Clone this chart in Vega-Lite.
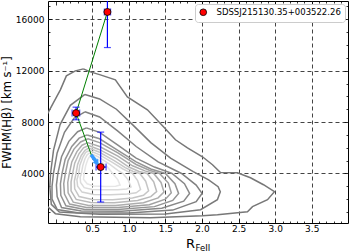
{
"$schema": "https://vega.github.io/schema/vega-lite/v6.json",
"width": 300, "height": 222,
"autosize": {"type": "none"},
"padding": {"left": 48, "top": 1, "right": 1, "bottom": 28},
"background": "white",
"config": {"font": "DejaVu Sans", "view": {"stroke": "black", "strokeWidth": 1}},
"datasets": {
"cont": [
{"c":1,"i":0,"x":0.379,"y":12139},{"c":1,"i":1,"x":0.474,"y":11906},{"c":1,"i":2,"x":0.611,"y":11673},{"c":1,"i":3,"x":0.816,"y":11284},{"c":1,"i":4,"x":0.98,"y":9963},{"c":1,"i":5,"x":1.254,"y":8953},{"c":1,"i":6,"x":1.473,"y":7632},{"c":1,"i":7,"x":1.637,"y":6622},{"c":1,"i":8,"x":1.801,"y":6000},{"c":1,"i":9,"x":2.006,"y":5301},{"c":1,"i":10,"x":2.143,"y":4680},{"c":1,"i":11,"x":2.252,"y":4081},{"c":1,"i":12,"x":2.484,"y":4058},{"c":1,"i":13,"x":2.662,"y":3669},{"c":1,"i":14,"x":2.84,"y":3125},{"c":1,"i":15,"x":2.99,"y":2582},{"c":1,"i":16,"x":2.895,"y":1960},{"c":1,"i":17,"x":2.69,"y":1416},{"c":1,"i":18,"x":2.621,"y":1028},{"c":1,"i":19,"x":2.211,"y":795},{"c":1,"i":20,"x":2.006,"y":717},{"c":1,"i":21,"x":1.295,"y":561},{"c":1,"i":22,"x":0.338,"y":639},{"c":1,"i":23,"x":-0.004,"y":872},{"c":1,"i":24,"x":-0.141,"y":1572},{"c":1,"i":25,"x":-0.15,"y":5000},{"c":1,"i":26,"x":-0.141,"y":8331},{"c":1,"i":27,"x":-0.032,"y":9497},{"c":1,"i":28,"x":0.064,"y":10507},{"c":1,"i":29,"x":0.146,"y":11595},{"c":1,"i":30,"x":0.269,"y":11983},{"c":1,"i":31,"x":0.379,"y":12139},
{"c":2,"i":0,"x":0.40,"y":10150},{"c":2,"i":1,"x":0.6,"y":9800},{"c":2,"i":2,"x":0.83,"y":9000},{"c":2,"i":3,"x":1.05,"y":7800},{"c":2,"i":4,"x":1.3,"y":6400},{"c":2,"i":5,"x":1.57,"y":5200},{"c":2,"i":6,"x":1.88,"y":4140},{"c":2,"i":7,"x":2.09,"y":3500},{"c":2,"i":8,"x":2.22,"y":2970},{"c":2,"i":9,"x":2.25,"y":2580},{"c":2,"i":10,"x":2.21,"y":1960},{"c":2,"i":11,"x":1.98,"y":1183},{"c":2,"i":12,"x":1.5,"y":850},{"c":2,"i":13,"x":0.6,"y":820},{"c":2,"i":14,"x":0.05,"y":1000},{"c":2,"i":15,"x":-0.06,"y":1600},{"c":2,"i":16,"x":-0.08,"y":3000},{"c":2,"i":17,"x":-0.07,"y":4000},{"c":2,"i":18,"x":-0.03,"y":5800},{"c":2,"i":19,"x":0.06,"y":7800},{"c":2,"i":20,"x":0.2,"y":9300},{"c":2,"i":21,"x":0.40,"y":10150},
{"c":3,"i":0,"x":0.40,"y":8800},{"c":3,"i":1,"x":0.6,"y":8400},{"c":3,"i":2,"x":0.85,"y":7300},{"c":3,"i":3,"x":1.1,"y":6100},{"c":3,"i":4,"x":1.4,"y":4900},{"c":3,"i":5,"x":1.72,"y":4000},{"c":3,"i":6,"x":1.92,"y":3100},{"c":3,"i":7,"x":2.0,"y":2450},{"c":3,"i":8,"x":1.92,"y":1800},{"c":3,"i":9,"x":1.6,"y":1150},{"c":3,"i":10,"x":1.0,"y":930},{"c":3,"i":11,"x":0.3,"y":950},{"c":3,"i":12,"x":0.02,"y":1200},{"c":3,"i":13,"x":-0.05,"y":2000},{"c":3,"i":14,"x":-0.05,"y":3000},{"c":3,"i":15,"x":-0.03,"y":4000},{"c":3,"i":16,"x":0.02,"y":5600},{"c":3,"i":17,"x":0.12,"y":7200},{"c":3,"i":18,"x":0.25,"y":8300},{"c":3,"i":19,"x":0.40,"y":8800},
{"c":4,"i":0,"x":0.42,"y":7550},{"c":4,"i":1,"x":0.6,"y":7200},{"c":4,"i":2,"x":0.85,"y":6200},{"c":4,"i":3,"x":1.1,"y":5200},{"c":4,"i":4,"x":1.35,"y":4500},{"c":4,"i":5,"x":1.59,"y":4000},{"c":4,"i":6,"x":1.76,"y":3200},{"c":4,"i":7,"x":1.83,"y":2450},{"c":4,"i":8,"x":1.75,"y":1850},{"c":4,"i":9,"x":1.45,"y":1300},{"c":4,"i":10,"x":0.9,"y":1060},{"c":4,"i":11,"x":0.35,"y":1080},{"c":4,"i":12,"x":0.08,"y":1350},{"c":4,"i":13,"x":0.02,"y":2200},{"c":4,"i":14,"x":0.01,"y":3100},{"c":4,"i":15,"x":0.03,"y":4000},{"c":4,"i":16,"x":0.08,"y":5300},{"c":4,"i":17,"x":0.18,"y":6500},{"c":4,"i":18,"x":0.3,"y":7250},{"c":4,"i":19,"x":0.42,"y":7550},
{"c":5,"i":0,"x":0.43,"y":7000},{"c":5,"i":1,"x":0.6,"y":6700},{"c":5,"i":2,"x":0.85,"y":5800},{"c":5,"i":3,"x":1.1,"y":4900},{"c":5,"i":4,"x":1.3,"y":4350},{"c":5,"i":5,"x":1.5,"y":4000},{"c":5,"i":6,"x":1.63,"y":3200},{"c":5,"i":7,"x":1.68,"y":2450},{"c":5,"i":8,"x":1.6,"y":1900},{"c":5,"i":9,"x":1.35,"y":1420},{"c":5,"i":10,"x":0.85,"y":1190},{"c":5,"i":11,"x":0.4,"y":1200},{"c":5,"i":12,"x":0.14,"y":1480},{"c":5,"i":13,"x":0.07,"y":2300},{"c":5,"i":14,"x":0.065,"y":3200},{"c":5,"i":15,"x":0.087,"y":4000},{"c":5,"i":16,"x":0.13,"y":5100},{"c":5,"i":17,"x":0.22,"y":6100},{"c":5,"i":18,"x":0.32,"y":6750},{"c":5,"i":19,"x":0.43,"y":7000},
{"c":6,"i":0,"x":0.44,"y":6700},{"c":6,"i":1,"x":0.6,"y":6400},{"c":6,"i":2,"x":0.85,"y":5600},{"c":6,"i":3,"x":1.1,"y":4700},{"c":6,"i":4,"x":1.28,"y":4250},{"c":6,"i":5,"x":1.42,"y":4000},{"c":6,"i":6,"x":1.54,"y":3250},{"c":6,"i":7,"x":1.58,"y":2500},{"c":6,"i":8,"x":1.5,"y":2000},{"c":6,"i":9,"x":1.28,"y":1570},{"c":6,"i":10,"x":0.85,"y":1345},{"c":6,"i":11,"x":0.42,"y":1360},{"c":6,"i":12,"x":0.19,"y":1620},{"c":6,"i":13,"x":0.12,"y":2400},{"c":6,"i":14,"x":0.11,"y":3200},{"c":6,"i":15,"x":0.132,"y":4000},{"c":6,"i":16,"x":0.17,"y":5000},{"c":6,"i":17,"x":0.25,"y":5900},{"c":6,"i":18,"x":0.34,"y":6450},{"c":6,"i":19,"x":0.44,"y":6700},
{"c":7,"i":0,"x":0.44,"y":6400},{"c":7,"i":1,"x":0.6,"y":6100},{"c":7,"i":2,"x":0.85,"y":5350},{"c":7,"i":3,"x":1.05,"y":4600},{"c":7,"i":4,"x":1.22,"y":4200},{"c":7,"i":5,"x":1.34,"y":4000},{"c":7,"i":6,"x":1.44,"y":3300},{"c":7,"i":7,"x":1.48,"y":2550},{"c":7,"i":8,"x":1.4,"y":2100},{"c":7,"i":9,"x":1.2,"y":1720},{"c":7,"i":10,"x":0.82,"y":1500},{"c":7,"i":11,"x":0.45,"y":1510},{"c":7,"i":12,"x":0.24,"y":1770},{"c":7,"i":13,"x":0.17,"y":2500},{"c":7,"i":14,"x":0.165,"y":3300},{"c":7,"i":15,"x":0.187,"y":4000},{"c":7,"i":16,"x":0.22,"y":4900},{"c":7,"i":17,"x":0.29,"y":5700},{"c":7,"i":18,"x":0.36,"y":6200},{"c":7,"i":19,"x":0.44,"y":6400},
{"c":8,"i":0,"x":0.45,"y":6180},{"c":8,"i":1,"x":0.6,"y":5850},{"c":8,"i":2,"x":0.83,"y":5150},{"c":8,"i":3,"x":1.0,"y":4500},{"c":8,"i":4,"x":1.14,"y":4150},{"c":8,"i":5,"x":1.25,"y":4000},{"c":8,"i":6,"x":1.34,"y":3350},{"c":8,"i":7,"x":1.38,"y":2600},{"c":8,"i":8,"x":1.3,"y":2200},{"c":8,"i":9,"x":1.12,"y":1900},{"c":8,"i":10,"x":0.8,"y":1730},{"c":8,"i":11,"x":0.48,"y":1740},{"c":8,"i":12,"x":0.28,"y":1980},{"c":8,"i":13,"x":0.21,"y":2650},{"c":8,"i":14,"x":0.21,"y":3350},{"c":8,"i":15,"x":0.232,"y":4000},{"c":8,"i":16,"x":0.26,"y":4800},{"c":8,"i":17,"x":0.32,"y":5550},{"c":8,"i":18,"x":0.38,"y":6000},{"c":8,"i":19,"x":0.45,"y":6180},
{"c":9,"i":0,"x":0.45,"y":5980},{"c":9,"i":1,"x":0.6,"y":5650},{"c":9,"i":2,"x":0.8,"y":5000},{"c":9,"i":3,"x":0.95,"y":4450},{"c":9,"i":4,"x":1.06,"y":4150},{"c":9,"i":5,"x":1.15,"y":4000},{"c":9,"i":6,"x":1.23,"y":3400},{"c":9,"i":7,"x":1.27,"y":2650},{"c":9,"i":8,"x":1.2,"y":2300},{"c":9,"i":9,"x":1.05,"y":2100},{"c":9,"i":10,"x":0.78,"y":1960},{"c":9,"i":11,"x":0.5,"y":1970},{"c":9,"i":12,"x":0.32,"y":2200},{"c":9,"i":13,"x":0.26,"y":2800},{"c":9,"i":14,"x":0.255,"y":3400},{"c":9,"i":15,"x":0.279,"y":4000},{"c":9,"i":16,"x":0.3,"y":4700},{"c":9,"i":17,"x":0.35,"y":5400},{"c":9,"i":18,"x":0.4,"y":5800},{"c":9,"i":19,"x":0.45,"y":5980},
{"c":10,"i":0,"x":0.46,"y":5790},{"c":10,"i":1,"x":0.6,"y":5450},{"c":10,"i":2,"x":0.78,"y":4850},{"c":10,"i":3,"x":0.92,"y":4350},{"c":10,"i":4,"x":0.99,"y":4150},{"c":10,"i":5,"x":1.05,"y":4000},{"c":10,"i":6,"x":1.12,"y":3450},{"c":10,"i":7,"x":1.16,"y":2750},{"c":10,"i":8,"x":1.1,"y":2500},{"c":10,"i":9,"x":0.98,"y":2400},{"c":10,"i":10,"x":0.75,"y":2350},{"c":10,"i":11,"x":0.52,"y":2370},{"c":10,"i":12,"x":0.36,"y":2550},{"c":10,"i":13,"x":0.3,"y":3000},{"c":10,"i":14,"x":0.29,"y":3500},{"c":10,"i":15,"x":0.314,"y":4000},{"c":10,"i":16,"x":0.33,"y":4650},{"c":10,"i":17,"x":0.37,"y":5250},{"c":10,"i":18,"x":0.41,"y":5650},{"c":10,"i":19,"x":0.46,"y":5790},
{"c":11,"i":0,"x":0.46,"y":5590},{"c":11,"i":1,"x":0.58,"y":5300},{"c":11,"i":2,"x":0.74,"y":4700},{"c":11,"i":3,"x":0.85,"y":4250},{"c":11,"i":4,"x":0.92,"y":4000},{"c":11,"i":5,"x":0.99,"y":3500},{"c":11,"i":6,"x":1.03,"y":2950},{"c":11,"i":7,"x":0.97,"y":2800},{"c":11,"i":8,"x":0.85,"y":2740},{"c":11,"i":9,"x":0.68,"y":2737},{"c":11,"i":10,"x":0.5,"y":2760},{"c":11,"i":11,"x":0.39,"y":2900},{"c":11,"i":12,"x":0.34,"y":3300},{"c":11,"i":13,"x":0.335,"y":3700},{"c":11,"i":14,"x":0.351,"y":4000},{"c":11,"i":15,"x":0.37,"y":4600},{"c":11,"i":16,"x":0.4,"y":5150},{"c":11,"i":17,"x":0.43,"y":5450},{"c":11,"i":18,"x":0.46,"y":5590},
{"c":12,"i":0,"x":0.47,"y":5380},{"c":12,"i":1,"x":0.58,"y":5100},{"c":12,"i":2,"x":0.7,"y":4550},{"c":12,"i":3,"x":0.78,"y":4000},{"c":12,"i":4,"x":0.85,"y":3500},{"c":12,"i":5,"x":0.88,"y":3100},{"c":12,"i":6,"x":0.82,"y":3000},{"c":12,"i":7,"x":0.68,"y":2990},{"c":12,"i":8,"x":0.52,"y":3020},{"c":12,"i":9,"x":0.43,"y":3200},{"c":12,"i":10,"x":0.38,"y":3550},{"c":12,"i":11,"x":0.39,"y":4000},{"c":12,"i":12,"x":0.41,"y":4600},{"c":12,"i":13,"x":0.44,"y":5100},{"c":12,"i":14,"x":0.47,"y":5380}
],
"pts": [
{"name":"SDSSJ215130.35+003522.26","x":0.707,"y":16570,"xlo":0.665,"xhi":0.75,"ylo":13800,"yhi":19340},
{"name":"SDSSJ215130.35+003522.26","x":0.279,"y":8700,"xlo":0.224,"xhi":0.328,"ylo":8180,"yhi":9160},
{"name":"SDSSJ215130.35+003522.26","x":0.615,"y":4500,"xlo":0.552,"xhi":0.689,"ylo":1780,"yhi":7220}
],
"path": [{"i":0,"x":0.707,"y":16570},{"i":1,"x":0.279,"y":8700},{"i":2,"x":0.49,"y":5400}],
"arrow": [{"x":0.484,"y":5457,"x2":0.55,"y2":4940}],
"head": [{"x":0.566,"y":4810}]
},
"resolve": {"axis": {"x": "independent", "y": "independent"}},
"layer": [
{
"data": {"name": "cont"},
"mark": {"type": "line", "strokeWidth": 1.5, "clip": true},
"encoding": {
"x": {"field": "x", "type": "quantitative", "scale": {"domain": [-0.105, 3.995], "nice": false, "zero": false},
 "axis": {"orient": "bottom", "values": [0,0.1,0.2,0.3,0.4,0.5,0.6,0.7,0.8,0.9,1,1.1,1.2,1.3,1.4,1.5,1.6,1.7,1.8,1.9,2,2.1,2.2,2.3,2.4,2.5,2.6,2.7,2.8,2.9,3,3.1,3.2,3.3,3.4,3.5,3.6,3.7,3.8,3.9],
  "labelExpr": "(round(datum.value*10)%5===0 && datum.value>0.2 && datum.value<3.8) ? format(datum.value,'.1f') : ''",
  "labelFontSize": 9, "labelColor": "black", "labelPadding": 5, "labelOverlap": false, "labelFlush": false,
  "tickSize": {"condition": {"test": "round(datum.value*10)%5===0", "value": -4}, "value": -2},
  "tickColor": "black", "tickWidth": 0.8,
  "grid": true, "gridDash": [4, 3], "gridColor": "#444", "gridWidth": 1,
  "gridOpacity": {"condition": {"test": "round(datum.value*10)%5===0 && datum.value>0.2 && datum.value<3.8", "value": 1}, "value": 0},
  "domain": false,
  "title": "R", "titleFontSize": 13, "titleFontWeight": "normal", "titleColor": "black", "titleX": 142, "titleY": 24, "titleAlign": "center", "titleBaseline": "alphabetic"}},
"y": {"field": "y", "type": "quantitative", "scale": {"domain": [146, 17422], "nice": false, "zero": false},
 "axis": {"orient": "left", "values": [1000,2000,3000,4000,5000,6000,7000,8000,9000,10000,11000,12000,13000,14000,15000,16000,17000],
  "labelExpr": "datum.value % 4000 === 0 ? '' + datum.value : ''",
  "labelFontSize": 9, "labelColor": "black", "labelPadding": 8, "labelOverlap": false, "labelFlush": false,
  "tickSize": {"condition": {"test": "datum.value % 4000 === 0", "value": -4}, "value": -2},
  "tickColor": "black", "tickWidth": 0.8,
  "grid": true, "gridDash": [4, 3], "gridColor": "#444", "gridWidth": 1,
  "gridOpacity": {"condition": {"test": "datum.value % 4000 === 0", "value": 1}, "value": 0},
  "domain": false,
  "title": "FWHM(Hβ) [km s⁻¹]", "titleFontSize": 11.5, "titleFontWeight": "normal", "titleColor": "black", "titlePadding": 3}},
"stroke": {"field": "c", "type": "nominal", "scale": {"domain": [1,2,3,4,5,6,7,8,9,10,11,12], "range": ["#777777","#7a7a7a","#808080","#888888","#939393","#a0a0a0","#adadad","#bababa","#c6c6c6","#d2d2d2","#dcdcdc","#e6e6e6"]}, "legend": null},
"order": {"field": "i", "type": "quantitative"}
}
},
{
"data": {"name": "path"},
"mark": {"type": "line", "color": "#008000", "strokeWidth": 1},
"encoding": {
"x": {"field": "x", "type": "quantitative", "scale": {"domain": [-0.105, 3.995], "nice": false, "zero": false},
 "axis": {"orient": "top", "values": [0,0.1,0.2,0.3,0.4,0.5,0.6,0.7,0.8,0.9,1,1.1,1.2,1.3,1.4,1.5,1.6,1.7,1.8,1.9,2,2.1,2.2,2.3,2.4,2.5,2.6,2.7,2.8,2.9,3,3.1,3.2,3.3,3.4,3.5,3.6,3.7,3.8,3.9],
  "labels": false, "grid": false, "domain": false,
  "tickSize": {"condition": {"test": "round(datum.value*10)%5===0", "value": -4}, "value": -2},
  "tickColor": "black", "tickWidth": 0.8,
  "title": "FeII", "titleFontSize": 8.5, "titleFontWeight": "normal", "titleColor": "black", "titleX": 147, "titleY": 249, "titleAlign": "left", "titleBaseline": "alphabetic"}},
"y": {"field": "y", "type": "quantitative", "scale": {"domain": [146, 17422], "nice": false, "zero": false},
 "axis": {"orient": "right", "values": [1000,2000,3000,4000,5000,6000,7000,8000,9000,10000,11000,12000,13000,14000,15000,16000,17000],
  "labels": false, "grid": false, "domain": false,
  "tickSize": {"condition": {"test": "datum.value % 4000 === 0", "value": -4}, "value": -2},
  "tickColor": "black", "tickWidth": 0.8, "title": null}},
"order": {"field": "i", "type": "quantitative"}
}
},
{
"data": {"name": "pts"},
"mark": {"type": "rule", "color": "#0000ff", "strokeWidth": 1.2, "clip": true},
"encoding": {
"x": {"field": "x", "type": "quantitative", "axis": null},
"y": {"field": "ylo", "type": "quantitative", "axis": null},
"y2": {"field": "yhi"}
}
},
{
"data": {"name": "pts"},
"mark": {"type": "rule", "color": "#0000ff", "strokeWidth": 1.2},
"encoding": {
"x": {"field": "xlo", "type": "quantitative", "axis": null},
"x2": {"field": "xhi"},
"y": {"field": "y", "type": "quantitative", "axis": null}
}
},
{
"data": {"name": "pts"},
"mark": {"type": "tick", "orient": "horizontal", "color": "#0000ff", "thickness": 1.2, "size": 7, "clip": true},
"encoding": {
"x": {"field": "x", "type": "quantitative", "axis": null},
"y": {"field": "ylo", "type": "quantitative", "axis": null}
}
},
{
"data": {"name": "pts"},
"mark": {"type": "tick", "orient": "horizontal", "color": "#0000ff", "thickness": 1.2, "size": 7, "clip": true},
"encoding": {
"x": {"field": "x", "type": "quantitative", "axis": null},
"y": {"field": "yhi", "type": "quantitative", "axis": null}
}
},
{
"data": {"name": "pts"},
"mark": {"type": "tick", "orient": "vertical", "color": "#0000ff", "thickness": 1.2, "size": 7},
"encoding": {
"x": {"field": "xlo", "type": "quantitative", "axis": null},
"y": {"field": "y", "type": "quantitative", "axis": null}
}
},
{
"data": {"name": "pts"},
"mark": {"type": "tick", "orient": "vertical", "color": "#0000ff", "thickness": 1.2, "size": 7},
"encoding": {
"x": {"field": "xhi", "type": "quantitative", "axis": null},
"y": {"field": "y", "type": "quantitative", "axis": null}
}
},
{
"data": {"name": "arrow"},
"mark": {"type": "rule", "color": "#3399ff", "strokeWidth": 3.5, "strokeCap": "butt"},
"encoding": {
"x": {"field": "x", "type": "quantitative", "axis": null},
"y": {"field": "y", "type": "quantitative", "axis": null},
"x2": {"field": "x2"},
"y2": {"field": "y2"}
}
},
{
"data": {"name": "head"},
"mark": {"type": "point", "shape": "triangle-up", "filled": true, "color": "#3399ff", "size": 45, "angle": 143, "opacity": 1},
"encoding": {
"x": {"field": "x", "type": "quantitative", "axis": null},
"y": {"field": "y", "type": "quantitative", "axis": null}
}
},
{
"data": {"name": "pts"},
"mark": {"type": "point", "filled": true, "size": 50, "stroke": "black", "strokeWidth": 0.8, "opacity": 1},
"encoding": {
"x": {"field": "x", "type": "quantitative", "axis": null},
"y": {"field": "y", "type": "quantitative", "axis": null},
"fill": {"field": "name", "type": "nominal", "scale": {"range": ["#ff0000"]},
 "legend": {"title": null, "orient": "top-right", "offset": 3, "fillColor": "white", "strokeColor": "#cccccc", "cornerRadius": 3, "padding": 4, "labelFontSize": 8.5, "labelColor": "black", "symbolType": "circle", "symbolSize": 45, "symbolStrokeColor": "black", "symbolStrokeWidth": 0.8, "symbolFillColor": "#ff0000", "labelOffset": 9}}
}
}
]
}
